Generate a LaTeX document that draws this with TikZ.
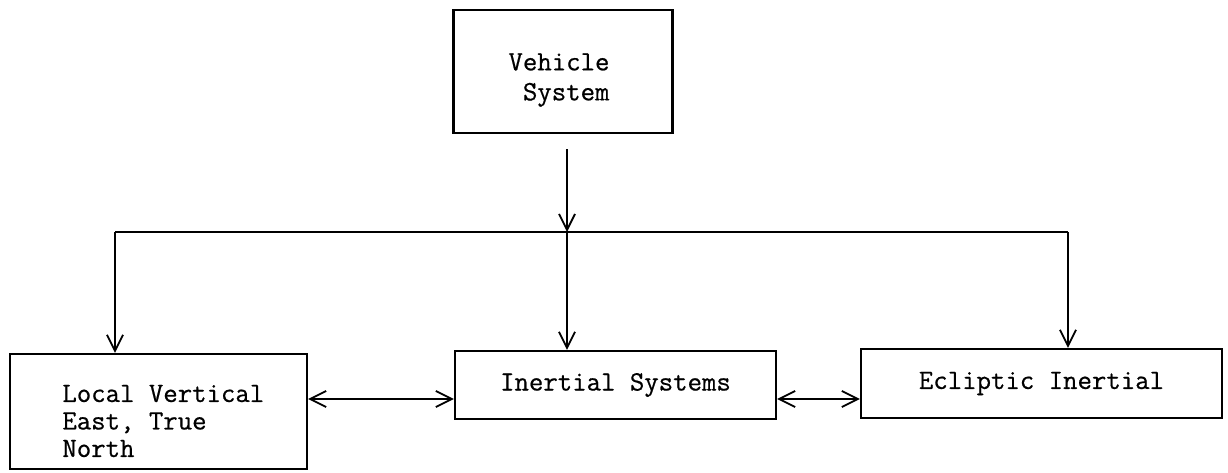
\documentclass[tikz,border=0pt]{standalone}
\usepackage{fontspec}
\newfontfamily\tw[FakeBold=0.6]{Latin Modern Mono}
\usetikzlibrary{arrows.meta}
\begin{document}
\begin{tikzpicture}[x=0.5pt,y=-0.5pt,
  box/.style={draw, line width=1.2pt, inner sep=0pt},
  lbl/.style={font=\tw\fontsize{14}{15}\selectfont, align=left},
  conn/.style={line width=0.9pt},
  arr/.style={conn, -{Straight Barb[length=8pt,width=8pt,line width=0.9pt]}},
  darr/.style={conn, {Straight Barb[length=8pt,width=8pt,line width=0.9pt]}-{Straight Barb[length=8pt,width=8pt,line width=0.9pt]}},
]
\useasboundingbox (0,0) rectangle (1228,472);
\node[box, minimum width=109.5pt, minimum height=61.5pt] (veh) at (563,71.5) {};
\node[lbl, inner sep=0pt] (veht) at (559,80) {Vehicle\\\phantom{V}System};
\node[box, minimum width=148.5pt, minimum height=57.5pt] (lv) at (158.5,411.5) {};
\node[lbl, anchor=west, font=\tw\fontsize{14}{13.75}\selectfont, inner sep=0pt] (lvt) at (62,421) {Local Vertical\\East, True\\North};
\node[box, lbl, minimum width=160.5pt, minimum height=34pt] (ins) at (615.5,385) {Inertial Systems};
\node[box, lbl, minimum width=180.5pt, minimum height=34.5pt] (ecl) at (1041.5,383.5) {Ecliptic Inertial};
\coordinate (j) at (567,232);
\coordinate (jl) at (115,232);
\coordinate (jr) at (1068,232);
\draw[arr] (j |- veh.south) ++(0,15) -- (j);
\draw[conn] (jl) -- (jr);
\draw[arr] (jl) -- (jl |- lv.north);
\draw[arr] (j) -- (j |- ins.north);
\draw[arr] (jr) -- (jr |- ecl.north);
\coordinate (h) at (0,399);
\draw[darr] (lv.east |- h) -- (ins.west |- h);
\draw[darr] (ins.east |- h) -- (ecl.west |- h);
\end{tikzpicture}
\end{document}
